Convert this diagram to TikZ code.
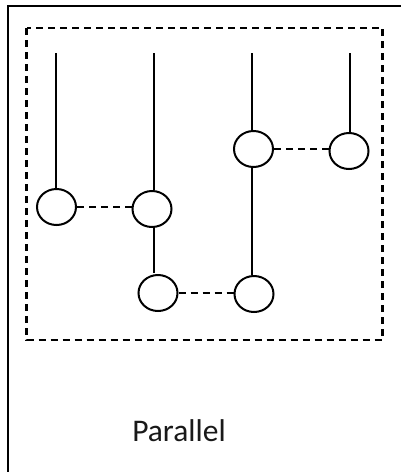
\documentclass[tikz,border=0pt]{standalone}
\usepackage{fontspec}
\setmainfont{Carlito}
\usetikzlibrary{shapes.geometric}
\begin{document}
\begin{tikzpicture}[x=1pt,y=-1pt,
  bead/.style={draw, ellipse, line width=2pt, minimum width=39pt, minimum height=36pt, inner sep=0pt},
  wire/.style={line width=2pt},
  link/.style={line width=2pt, dash pattern=on 7pt off 5pt},
  frame/.style={line width=2.2pt, dash pattern=on 7pt off 5pt},
  label/.style={font=\fontsize{31.5}{36}\selectfont, text=black!90, inner sep=0pt, anchor=base}]
\useasboundingbox (0,0) rectangle (401,472);
% outer border (right/bottom fall outside the page)
\draw[line width=2.4pt] (8,480) -- (8,6) -- (410,6);
% dashed frame
\draw[frame] (26.5,28) rectangle (382.5,340);
% tops of the wires
\coordinate (t1) at (56,53);
\coordinate (t2) at (154,53);
\coordinate (t3) at (252,53);
\coordinate (t4) at (350,53);
% beads
\node[bead] (c1) at (56.5,207) {};
\node[bead] (c2) at (152,209) {};
\node[bead] (c3) at (253.5,149) {};
\node[bead] (c4) at (349,151) {};
\node[bead] (c5) at (158,293) {};
\node[bead] (c6) at (254,294) {};
% wires
\draw[wire] (t1) -- (t1 |- c1.north);
\draw[wire] (t2) -- (t2 |- c2.north);
\draw[wire] (t3) -- (t3 |- c3.north);
\draw[wire] (t4) -- (t4 |- c4.north);
\draw[wire] (t2 |- c2.south) -- ([yshift=0.8pt]t2 |- c5.north);
\draw[wire] (t3 |- c3.south) -- (t3 |- c6.north);
% dashed links
\draw[link] (c1.east) -- (c1.east -| c2.west);
\draw[link] (c3.east) -- (c3.east -| c4.west);
\draw[link] (c5.east) -- (c5.east -| c6.west);
% caption
\node[label] (cap) at (179,441.7) {Parallel};
\end{tikzpicture}
\end{document}
